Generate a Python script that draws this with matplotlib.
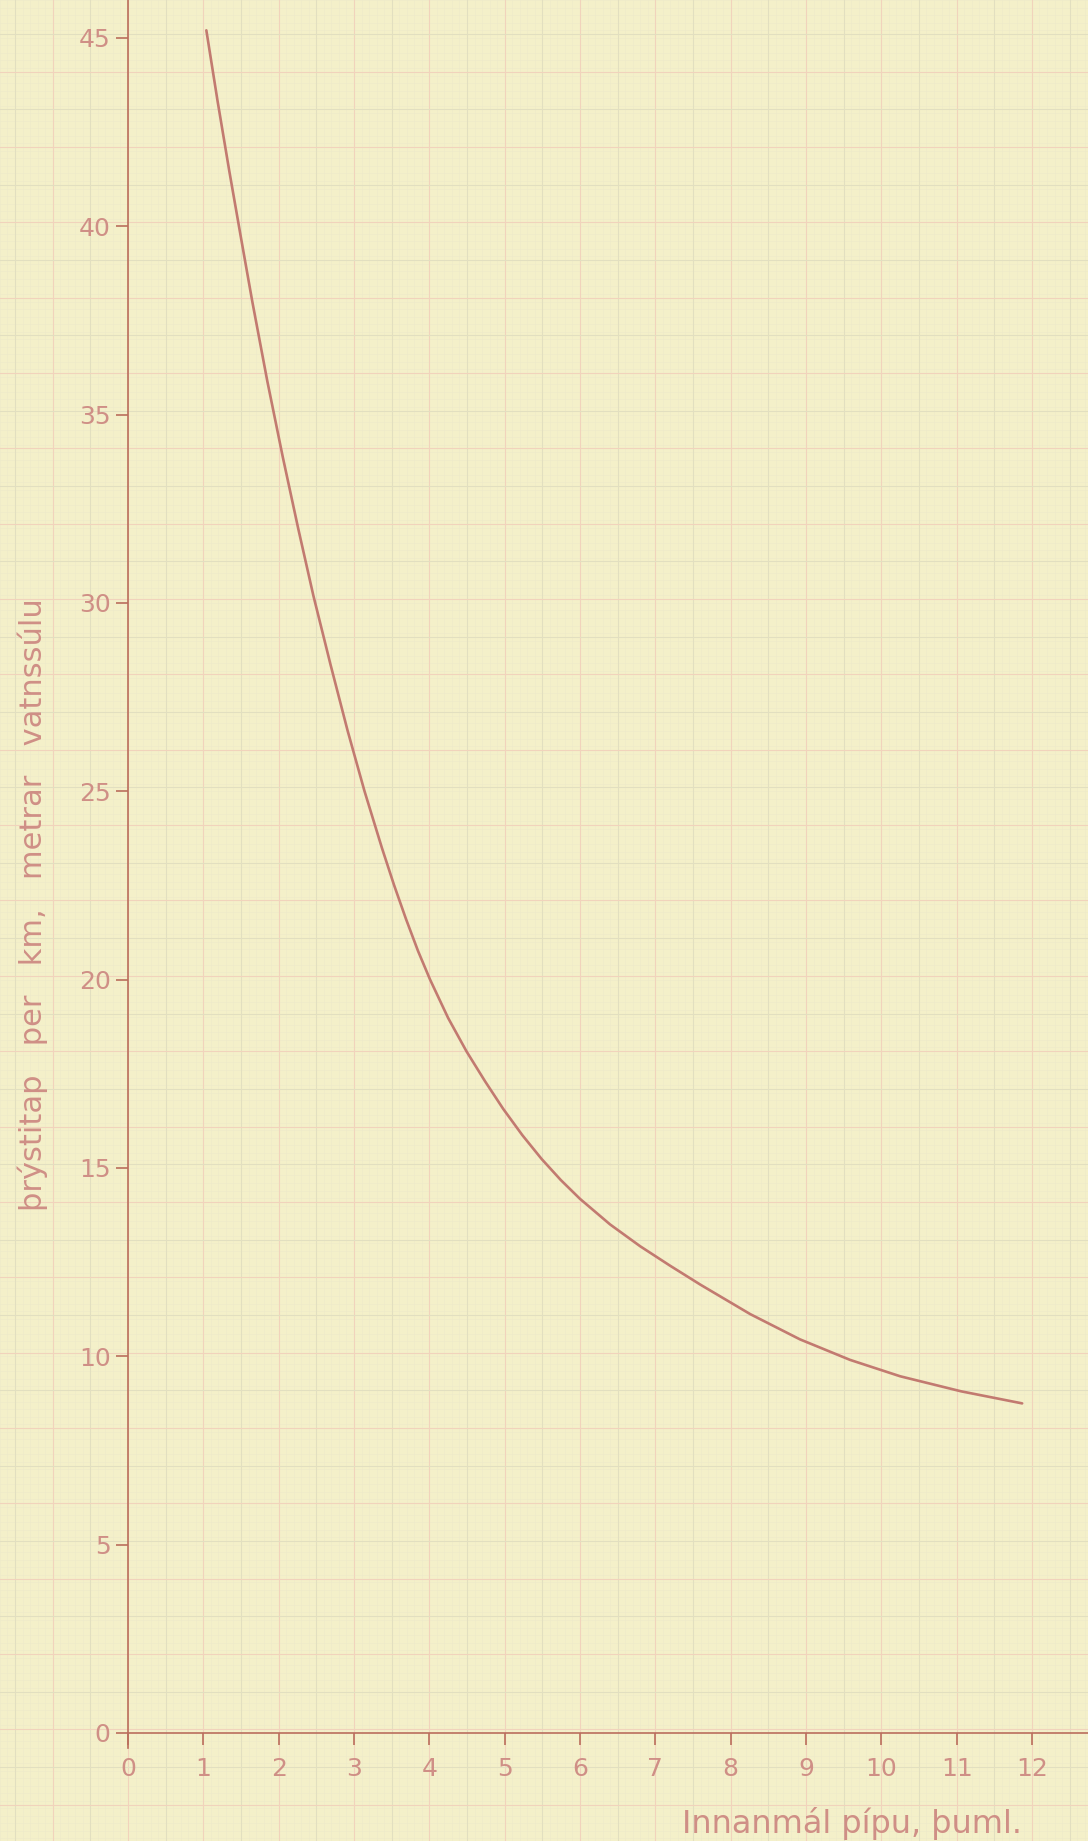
import numpy as np
import matplotlib
matplotlib.use("Agg")
import matplotlib.pyplot as plt

# ---- data ----
diameter = [1.04, 1.19, 1.345, 1.5, 1.65, 1.85, 2.055, 2.26, 2.46, 2.69, 2.915, 3.14, 3.37,
            3.53, 3.69, 3.85, 4.01, 4.25, 4.495, 4.74, 4.98, 5.235, 5.49, 5.745, 6.0,
            6.4, 6.8, 7.2, 7.6, 8.26, 8.92, 9.585, 10.25, 11.06, 11.87]
pressure_loss = [45.2, 43.31, 41.46, 39.69, 38.0, 35.88, 33.87, 31.97, 30.2, 28.35, 26.61, 25.0, 23.5,
                 22.52, 21.61, 20.76, 20.0, 18.98, 18.09, 17.30, 16.57, 15.87, 15.24, 14.68, 14.18,
                 13.50, 12.92, 12.40, 11.9, 11.12, 10.45, 9.905, 9.47, 9.07, 8.75]

x_ticks = list(range(0, 13))
y_ticks = [0, 5, 10, 15, 20, 25, 30, 35, 40, 45]
x_label = "Innanmál pípu, þuml."
y_label = "þrýstitap   per   km,   metrar   vatnssúlu"

# ---- styling ----
paper = "#F4F0C9"
ink = "#CF8F86"
curve_col = "#C27A70"
axis_col = "#BA6E5C"
grid_pink = "#F1D3BC"
grid_grey = "#E2DFC0"
grid_fine = "#EDEACA"

W, H = 1088, 1841
fig = plt.figure(figsize=(W / 100, H / 100), dpi=100, facecolor=paper)
ax = fig.add_axes([0, 0, 1, 1])
ax.set_facecolor(paper)

px_x = 75.33   # pixels per x unit
px_y = 37.67   # pixels per y unit
x0_px, y0_px = 128, 1733
ax.set_xlim(-x0_px / px_x, (W - x0_px) / px_x)
ax.set_ylim(-(H - y0_px) / px_y, y0_px / px_y)

# graph-paper grid
xl = ax.get_xlim(); yl = ax.get_ylim()
for v in np.arange(np.floor(xl[0] * 10) / 10, xl[1], 0.1):
    ax.axvline(v, color=grid_fine, lw=0.4, zorder=0)
for v in np.arange(np.floor(yl[0] * 5) / 5, yl[1], 0.2):
    ax.axhline(v, color=grid_fine, lw=0.4, zorder=0)
for v in np.arange(np.floor(xl[0] * 2) / 2, xl[1], 0.5):
    is_int = abs(v - round(v)) < 1e-6
    ax.axvline(v, color=grid_pink if is_int else grid_grey, lw=0.8, zorder=0.5)
for v in np.arange(np.floor(yl[0]), yl[1], 1.0):
    even = int(round(v)) % 2 == 0
    ax.axhline(v + 0.1, color=grid_pink if even else grid_grey, lw=0.8, zorder=0.5)

# curve
ax.plot(diameter, pressure_loss, color=curve_col, lw=1.9, solid_capstyle="round",
        solid_joinstyle="round", zorder=3)

# axes
for s in ["top", "right"]:
    ax.spines[s].set_visible(False)
ax.spines["left"].set_position(("data", 0))
ax.spines["bottom"].set_position(("data", 0))
ax.spines["left"].set_bounds(-0.4, yl[1])
ax.spines["bottom"].set_bounds(0, xl[1])
for s in ["left", "bottom"]:
    ax.spines[s].set_color(axis_col)
    ax.spines[s].set_linewidth(1.2)
    ax.spines[s].set_zorder(2)

ax.set_xticks(x_ticks)
ax.set_yticks(y_ticks)
ax.set_xticklabels([str(t) for t in x_ticks])
ax.set_yticklabels([str(t) for t in y_ticks])
ax.tick_params(axis="x", direction="out", length=8.5, width=1.2, color=axis_col,
               labelcolor=ink, labelsize=18, pad=9)
ax.tick_params(axis="y", direction="out", length=8.5, width=1.2, color=axis_col,
               labelcolor=ink, labelsize=18, pad=4)
ax.grid(False)

# axis titles
fig.text(1022 / W, 1 - 1823 / H, x_label, color=ink, fontsize=23,
         ha="right", va="center")
fig.text(33 / W, 1 - 905 / H, y_label, color=ink, fontsize=22,
         ha="center", va="center", rotation=90)

fig.savefig("out.png", dpi=100, facecolor=paper)
